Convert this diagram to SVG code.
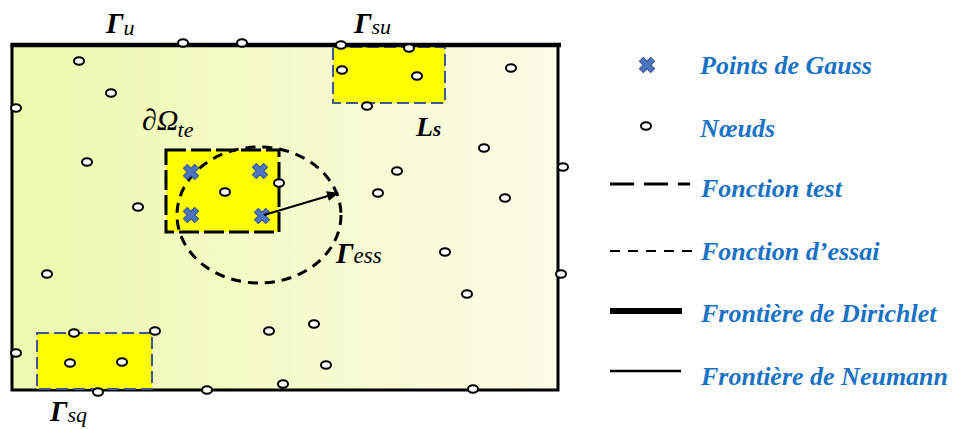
<svg xmlns="http://www.w3.org/2000/svg" width="954" height="429" viewBox="0 0 954 429">
<defs>
<linearGradient id="bg" x1="0" y1="0" x2="1" y2="0">
<stop offset="0" stop-color="#edf9ae"/>
<stop offset="1" stop-color="#fbfde8"/>
</linearGradient>
<marker id="ah" viewBox="0 0 12 10" refX="11" refY="5" markerWidth="12" markerHeight="10" markerUnits="userSpaceOnUse" orient="auto">
<path d="M0,0 L12,5 L0,10 Z" fill="#000"/>
</marker>
<g id="gx">
<path d="M-6,-6 L6,6 M6,-6 L-6,6" stroke="#2f5190" stroke-width="6.5" stroke-linecap="butt"/>
<path d="M-5.5,-5.5 L5.5,5.5 M5.5,-5.5 L-5.5,5.5" stroke="#4d75c0" stroke-width="4.5"/>
</g>
</defs>
<style>
.nd{fill:#fff;stroke:#000;stroke-width:2}
.ys{fill:#ffff00;stroke:#3d5a8c;stroke-width:2;stroke-dasharray:12 5}
.lg{font-family:"Liberation Serif","Times New Roman",serif;font-weight:bold;font-style:italic;font-size:26px;fill:#1a72c4}
.gm{font-family:"Liberation Serif","Times New Roman",serif;font-weight:bold;font-style:italic;font-size:28px;fill:#000}
.sb{font-family:"Liberation Serif","Times New Roman",serif;font-style:italic;font-weight:normal;fill:#000}
</style>
<g id="domain">
<rect x="12" y="45" width="546" height="345" fill="url(#bg)"/>
<path d="M12,45 L12,390 L558,390 L558,45" fill="none" stroke="#000" stroke-width="3"/>
</g>
<g id="support-su"><rect class="ys" x="333" y="47" width="112" height="56"/></g>
<g id="support-sq"><rect class="ys" x="37" y="333" width="115" height="56"/></g>
<g id="test-domain"><rect x="166" y="150" width="113" height="82" fill="#ffff00" stroke="#000" stroke-width="3" stroke-dasharray="20 5"/></g>
<g id="dirichlet"><line x1="10.5" y1="45" x2="561" y2="45" stroke="#000" stroke-width="4.5"/></g>
<g id="trial-domain"><ellipse cx="259" cy="215" rx="82" ry="68" fill="none" stroke="#000" stroke-width="3" stroke-dasharray="10 7"/></g>
<g id="nodes">
<ellipse class="nd" cx="183" cy="43" rx="5" ry="3.8"/>
<ellipse class="nd" cx="242" cy="43" rx="5" ry="3.8"/>
<ellipse class="nd" cx="341" cy="45" rx="5" ry="3.8"/>
<ellipse class="nd" cx="409" cy="48" rx="5" ry="3.8"/>
<ellipse class="nd" cx="79" cy="61" rx="5" ry="3.8"/>
<ellipse class="nd" cx="342" cy="70" rx="5" ry="3.8"/>
<ellipse class="nd" cx="417" cy="76" rx="5" ry="3.8"/>
<ellipse class="nd" cx="511" cy="68" rx="5" ry="3.8"/>
<ellipse class="nd" cx="111" cy="93" rx="5" ry="3.8"/>
<ellipse class="nd" cx="16" cy="108" rx="5" ry="3.8"/>
<ellipse class="nd" cx="367" cy="106" rx="5" ry="3.8"/>
<ellipse class="nd" cx="484" cy="148" rx="5" ry="3.8"/>
<ellipse class="nd" cx="87" cy="162" rx="5" ry="3.8"/>
<ellipse class="nd" cx="563" cy="167" rx="5" ry="3.8"/>
<ellipse class="nd" cx="397" cy="171" rx="5" ry="3.8"/>
<ellipse class="nd" cx="279" cy="183" rx="5" ry="3.8"/>
<ellipse class="nd" cx="225" cy="192" rx="5" ry="3.8"/>
<ellipse class="nd" cx="378" cy="193" rx="5" ry="3.8"/>
<ellipse class="nd" cx="505" cy="198" rx="5" ry="3.8"/>
<ellipse class="nd" cx="138" cy="207" rx="5" ry="3.8"/>
<ellipse class="nd" cx="445" cy="252" rx="5" ry="3.8"/>
<ellipse class="nd" cx="47" cy="274" rx="5" ry="3.8"/>
<ellipse class="nd" cx="561" cy="274" rx="5" ry="3.8"/>
<ellipse class="nd" cx="467" cy="294" rx="5" ry="3.8"/>
<ellipse class="nd" cx="314" cy="324" rx="5" ry="3.8"/>
<ellipse class="nd" cx="269" cy="331" rx="5" ry="3.8"/>
<ellipse class="nd" cx="74" cy="333" rx="5" ry="3.8"/>
<ellipse class="nd" cx="155" cy="331" rx="5" ry="3.8"/>
<ellipse class="nd" cx="16" cy="353" rx="5" ry="3.8"/>
<ellipse class="nd" cx="70" cy="363" rx="5" ry="3.8"/>
<ellipse class="nd" cx="122" cy="362" rx="5" ry="3.8"/>
<ellipse class="nd" cx="326" cy="365" rx="5" ry="3.8"/>
<ellipse class="nd" cx="283" cy="384" rx="5" ry="3.8"/>
<ellipse class="nd" cx="98" cy="392" rx="5" ry="3.8"/>
<ellipse class="nd" cx="207" cy="390" rx="5" ry="3.8"/>
<ellipse class="nd" cx="473" cy="389" rx="5" ry="3.8"/>
</g>
<g id="gauss-points">
<use href="#gx" x="191" y="172"/>
<use href="#gx" x="260" y="171"/>
<use href="#gx" x="191" y="215"/>
<use href="#gx" x="262" y="216"/>
</g>
<g id="connectors">
<line x1="264" y1="215" x2="338" y2="193" stroke="#000" stroke-width="2.2" marker-end="url(#ah)"/>
</g>
<g id="labels">
<text class="gm" x="106" y="33" style="font-size:29px">Γ<tspan class="sb" style="font-size:22px" dy="2">u</tspan></text>
<text class="gm" x="354" y="33" style="font-size:29px">Γ<tspan class="sb" style="font-size:22px" dy="1">su</tspan></text>
<text class="gm" x="416" y="136" style="font-size:28px">L<tspan style="font-size:21px">s</tspan></text>
<text class="sb" x="142" y="130" style="font-size:30px">∂Ω<tspan style="font-size:22px" dx="-1" dy="7">te</tspan></text>
<text class="gm" x="336" y="263" style="font-size:29px">Γ<tspan class="sb" style="font-size:23px">ess</tspan></text>
<text class="gm" x="50" y="421" style="font-size:29px">Γ<tspan class="sb" style="font-size:22px" dy="1">sq</tspan></text>
</g>
<g id="legend">
<use href="#gx" x="647" y="65"/>
<ellipse class="nd" cx="646" cy="126" rx="5" ry="3.8"/>
<line x1="610" y1="184" x2="690" y2="184" stroke="#000" stroke-width="3" stroke-dasharray="24 10"/>
<line x1="610" y1="251" x2="692" y2="251" stroke="#000" stroke-width="2" stroke-dasharray="10 8"/>
<line x1="610" y1="311" x2="682" y2="311" stroke="#000" stroke-width="6"/>
<line x1="610" y1="371" x2="681" y2="371" stroke="#000" stroke-width="2.5"/>
<text class="lg" x="700" y="74">Points de Gauss</text>
<text class="lg" x="700" y="137">Nœuds</text>
<text class="lg" x="701" y="197">Fonction test</text>
<text class="lg" x="701" y="260">Fonction d’essai</text>
<text class="lg" x="701" y="322">Frontière de Dirichlet</text>
<text class="lg" x="701" y="385">Frontière de Neumann</text>
</g>
</svg>
